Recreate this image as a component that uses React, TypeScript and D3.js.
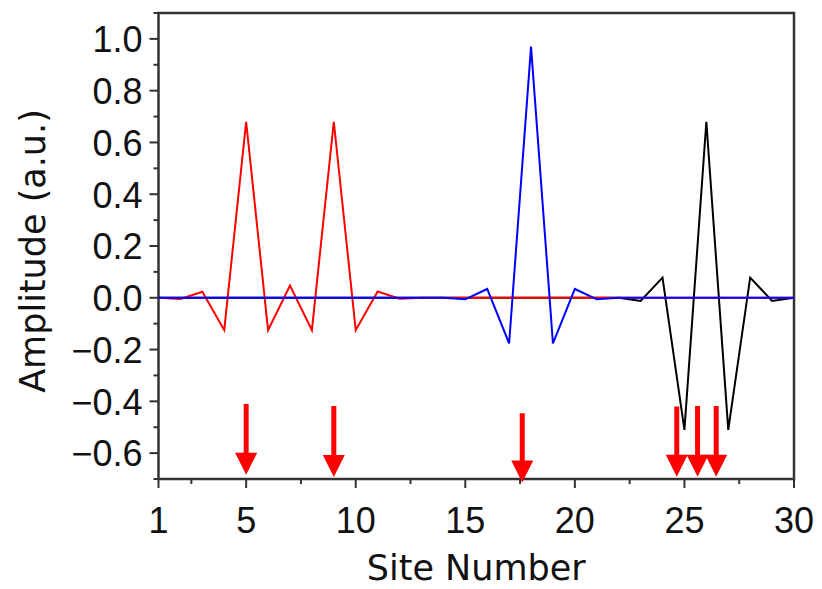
import React, { useEffect, useRef } from 'react';
import * as d3 from 'd3';

// site numbers 1..30
const sites = [1, 2, 3, 4, 5, 6, 7, 8, 9, 10, 11, 12, 13, 14, 15, 16, 17, 18, 19, 20, 21, 22, 23, 24, 25, 26, 27, 28, 29, 30];

const redValues = [0, -0.005, 0.023, -0.125, 0.68, -0.125, 0.047, -0.125, 0.68, -0.125, 0.024, -0.004, 0, 0, 0, 0, 0, 0, 0, 0, 0, 0, 0, 0, 0, 0, 0, 0, 0, 0];
const blueValues = [0, 0, 0, 0, 0, 0, 0, 0, 0, 0, 0, 0, 0, 0, -0.006, 0.034, -0.176, 0.97, -0.176, 0.034, -0.006, 0, 0, 0, 0, 0, 0, 0, 0, 0];
const blackValues = [0, 0, 0, 0, 0, 0, 0, 0, 0, 0, 0, 0, 0, 0, 0, 0, 0, 0, 0, 0, 0, 0, -0.012, 0.078, -0.51, 0.68, -0.51, 0.078, -0.012, 0];

// red arrows: site position, top of shaft and tip (amplitude units)
const arrowSites = [5, 9, 17.6, 24.65, 25.6, 26.45];
const arrowTops = [-0.41, -0.418, -0.446, -0.42, -0.418, -0.418];
const arrowTips = [-0.684, -0.692, -0.714, -0.691, -0.691, -0.691];

const xMajorTicks = [1, 5, 10, 15, 20, 25, 30];
const xMinorTicks = [2.5, 7.5, 12.5, 17.5, 22.5, 27.5];
const yMajorTicks = [-0.6, -0.4, -0.2, 0, 0.2, 0.4, 0.6, 0.8, 1.0];
const yMinorTicks = [-0.7, -0.5, -0.3, -0.1, 0.1, 0.3, 0.5, 0.7, 0.9, 1.1];

const App = () => {
  const ref = useRef<SVGSVGElement>(null);

  useEffect(() => {
    const width = 822;
    const height = 589;
    const left = 158.5;
    const right = 794;
    const top = 13;
    const bottom = 479;

    const svg = d3.select(ref.current);
    svg.selectAll('*').remove();

    const x = d3.scaleLinear().domain([1, 30]).range([left, right]);
    const y = d3.scaleLinear().domain([-0.7, 1.1]).range([bottom, top]);

    const axisColor = '#333';
    const tickFont = "'Liberation Sans', Arial, sans-serif";
    const titleFont = "'DejaVu Sans', sans-serif";

    // frame
    svg
      .append('rect')
      .attr('x', left)
      .attr('y', top)
      .attr('width', right - left)
      .attr('height', bottom - top)
      .attr('fill', 'none')
      .attr('stroke', axisColor)
      .attr('stroke-width', 2.5);

    // y ticks
    svg
      .selectAll('.ymaj')
      .data(yMajorTicks)
      .enter()
      .append('line')
      .attr('x1', left - 9)
      .attr('x2', left)
      .attr('y1', (d) => y(d))
      .attr('y2', (d) => y(d))
      .attr('stroke', axisColor)
      .attr('stroke-width', 2);

    svg
      .selectAll('.ymin')
      .data(yMinorTicks)
      .enter()
      .append('line')
      .attr('x1', left - 5)
      .attr('x2', left)
      .attr('y1', (d) => y(d))
      .attr('y2', (d) => y(d))
      .attr('stroke', axisColor)
      .attr('stroke-width', 2);

    svg
      .selectAll('.ylab')
      .data(yMajorTicks)
      .enter()
      .append('text')
      .attr('x', left - 16)
      .attr('y', (d) => y(d))
      .attr('dy', '0.37em')
      .attr('text-anchor', 'end')
      .style('font-family', tickFont)
      .style('font-size', '36px')
      .attr('fill', '#111')
      .text((d) => (d < 0 ? '\u2212' + Math.abs(d).toFixed(1) : d.toFixed(1)));

    // x ticks
    svg
      .selectAll('.xmaj')
      .data(xMajorTicks)
      .enter()
      .append('line')
      .attr('x1', (d) => x(d))
      .attr('x2', (d) => x(d))
      .attr('y1', bottom)
      .attr('y2', bottom + 9)
      .attr('stroke', axisColor)
      .attr('stroke-width', 2);

    svg
      .selectAll('.xmin')
      .data(xMinorTicks)
      .enter()
      .append('line')
      .attr('x1', (d) => x(d))
      .attr('x2', (d) => x(d))
      .attr('y1', bottom)
      .attr('y2', bottom + 5)
      .attr('stroke', axisColor)
      .attr('stroke-width', 2);

    svg
      .selectAll('.xlab')
      .data(xMajorTicks)
      .enter()
      .append('text')
      .attr('x', (d) => x(d))
      .attr('y', 533)
      .attr('text-anchor', 'middle')
      .style('font-family', tickFont)
      .style('font-size', '36px')
      .attr('fill', '#111')
      .text((d) => d);

    // axis titles
    svg
      .append('text')
      .attr('x', (left + right) / 2)
      .attr('y', 580)
      .attr('text-anchor', 'middle')
      .style('font-family', titleFont)
      .style('font-size', '35px')
      .attr('fill', '#111')
      .text('Site Number');

    svg
      .append('text')
      .attr('transform', `translate(45,${(top + bottom) / 2 + 5}) rotate(-90)`)
      .attr('text-anchor', 'middle')
      .style('font-family', titleFont)
      .style('font-size', '35px')
      .attr('fill', '#111')
      .text('Amplitude (a.u.)');

    // series
    const line = d3
      .line<number>()
      .x((d, i) => x(sites[i]))
      .y((d) => y(d));

    const series = [
      { values: blackValues, color: '#000000' },
      { values: redValues, color: '#ff0000' },
      { values: blueValues, color: '#0000ff' },
    ];

    series.forEach((s) => {
      svg
        .append('path')
        .datum(s.values)
        .attr('d', line)
        .attr('fill', 'none')
        .attr('stroke', s.color)
        .attr('stroke-width', 2)
        .attr('stroke-linejoin', 'miter');
    });

    // arrows
    const headLen = 22;
    const headHalf = 11;
    arrowSites.forEach((s, i) => {
      const ax = x(s);
      const y0 = y(arrowTops[i]);
      const y1 = y(arrowTips[i]);
      svg
        .append('line')
        .attr('x1', ax)
        .attr('x2', ax)
        .attr('y1', y0)
        .attr('y2', y1 - headLen + 2)
        .attr('stroke', '#ff0000')
        .attr('stroke-width', 5);
      svg
        .append('path')
        .attr('d', `M${ax - headHalf},${y1 - headLen}L${ax + headHalf},${y1 - headLen}L${ax},${y1}Z`)
        .attr('fill', '#ff0000');
    });

    svg.attr('width', width).attr('height', height);
  }, []);

  return (
    <div style={{ position: 'absolute', left: 0, top: 0, background: '#fff' }}>
      <svg ref={ref} width={822} height={589} style={{ display: 'block' }} />
    </div>
  );
};

export default App;
